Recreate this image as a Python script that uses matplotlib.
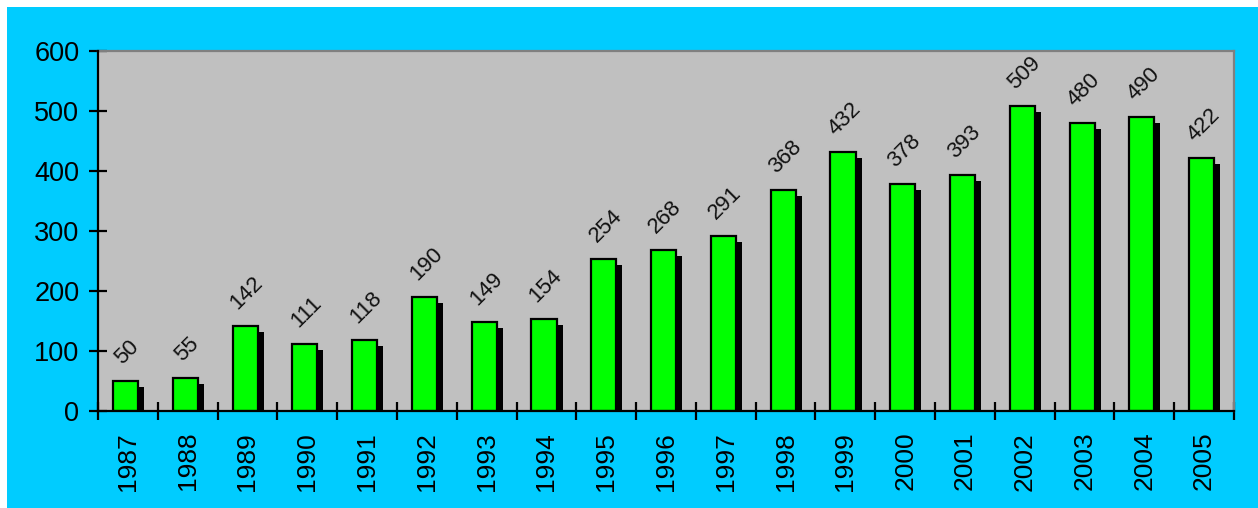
import matplotlib
matplotlib.use("Agg")
import matplotlib.pyplot as plt
from matplotlib.patches import Rectangle
from matplotlib.transforms import offset_copy
import numpy as np

years = ["1987", "1988", "1989", "1990", "1991", "1992", "1993", "1994", "1995", "1996",
         "1997", "1998", "1999", "2000", "2001", "2002", "2003", "2004", "2005"]
values = [50, 55, 142, 111, 118, 190, 149, 154, 254, 268, 291, 368, 432, 378, 393, 509, 480, 490, 422]
yticks = [0, 100, 200, 300, 400, 500, 600]

plt.rcParams['font.family'] = ['Liberation Sans', 'DejaVu Sans']

W, H = 1258, 508
fig = plt.figure(figsize=(W / 100, H / 100), dpi=100, facecolor='white')
fig.patches.append(Rectangle((7 / W, 0), 1 - 7 / W, 1 - 7 / H, transform=fig.transFigure,
                             facecolor='#00CCFF', edgecolor='none', zorder=-10))

ax = fig.add_axes([98 / W, (H - 411) / H, (1234 - 98) / W, (411 - 51) / H])
ax.set_facecolor('#C0C0C0')

x = np.arange(len(years))
bw = 0.42
xoff = -0.04
shadow_tr = offset_copy(ax.transData, fig=fig, x=6, y=-6, units='dots')
ax.bar(x + xoff, values, width=bw, color='black', edgecolor='none', transform=shadow_tr, zorder=2)
ax.bar(x + xoff, values, width=bw, color='#00FF00', edgecolor='black', linewidth=1.6, zorder=3)

for xi, v in zip(x, values):
    ax.annotate(str(v), (xi + xoff + 0.03, v), xytext=(0, 9), textcoords='offset points',
                rotation=45, ha='center', va='bottom', fontsize=16, color='#111111', zorder=4)

ax.set_xlim(-0.5, len(years) - 0.5)
ax.set_ylim(0, 600)
ax.set_yticks(yticks)
ax.set_yticklabels([str(t) for t in yticks])
ax.tick_params(axis='y', direction='inout', length=13, width=1.6, labelsize=19.5, pad=7, colors='black')

ax.set_xticks(x)
ax.set_xticklabels(years, rotation=90)
ax.set_xticks(np.arange(-0.5, len(years)), minor=True)
ax.tick_params(axis='x', which='major', length=0, labelsize=19, pad=15)
ax.tick_params(axis='x', which='minor', direction='inout', length=13, width=1.6, color='black')

for s in ['left', 'bottom']:
    ax.spines[s].set_color('black')
    ax.spines[s].set_linewidth(1.6)
    ax.spines[s].set_zorder(5)
for s in ['top', 'right']:
    ax.spines[s].set_color('#808080')
    ax.spines[s].set_linewidth(1.6)

fig.savefig('out.png', dpi=100, facecolor=fig.get_facecolor())
